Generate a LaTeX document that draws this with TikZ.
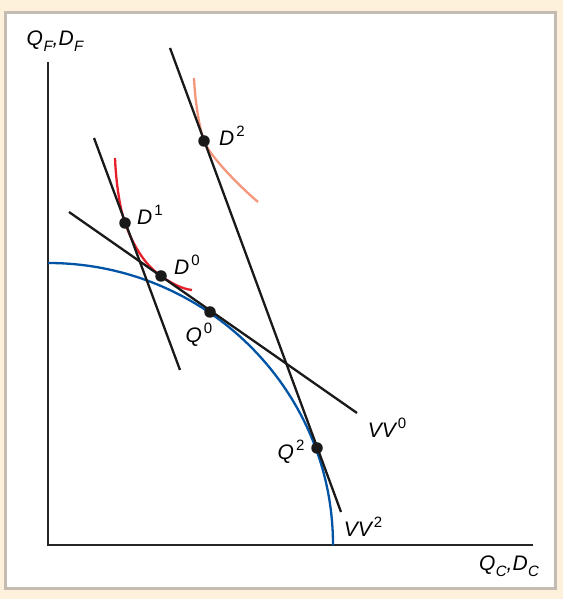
\documentclass[tikz,border=0pt]{standalone}
\usepackage{fontspec}
\setmainfont{Liberation Sans}
\usepackage{xcolor}
\usetikzlibrary{positioning}
\definecolor{framebeige}{RGB}{254,241,220}
\definecolor{framegray}{RGB}{196,188,178}
\definecolor{ppfblue}{RGB}{0,84,166}
\definecolor{icred}{RGB}{232,30,42}
\definecolor{icsalmon}{RGB}{244,150,124}
\newcommand{\hochz}[1]{\kern2pt\raisebox{0.85ex}{\fontsize{15}{15}\selectfont\upshape #1}}
\newcommand{\tiefz}[1]{\kern0.5pt\raisebox{-0.55ex}{\fontsize{15}{15}\selectfont #1}}
\tikzset{
    axis line/.style={line width=2.6pt, draw=black!85},
    price line/.style={line width=2.3pt, draw=black!90},
    eqpoint/.style={circle, fill=black!90, inner sep=0pt, minimum size=11.5pt},
    curve label/.style={font=\fontsize{21}{23}\selectfont\itshape, inner sep=0pt}
}

\begin{document}
\begin{tikzpicture}[x=1pt, y=1pt]
    % Rahmen
    \fill[framebeige] (-48,-54) rectangle (515,545);
    \useasboundingbox (-48,-54) rectangle (515,545);
    \draw[framegray, line width=3pt, fill=white] (-42,-43) rectangle (507,532);

    % Achsen
    \coordinate (origin) at (0,0);
    \coordinate (ytop) at (0,483);
    \coordinate (xend) at (485,0);
    \draw[axis line] (ytop) -- (origin) -- (xend);
    \node[curve label] (ylab) at (7,504) {Q\tiefz{F},D\tiefz{F}};
    \node[curve label] (xlab) at (461,-21) {Q\tiefz{C},D\tiefz{C}};

    % Transformationskurve
    \draw[ppfblue, line width=2.3pt] (0,282) arc[start angle=90, end angle=0, x radius=285, y radius=282];

    % Indifferenzkurven
    \draw[icred, line width=2.3pt] (67,387) .. controls (68,362) and (72,336) .. (77,322)
        .. controls (81,311) and (92,283) .. (113,269)
        .. controls (123,262) and (134,256) .. (144,255);
    \draw[icsalmon, line width=2.3pt] (146,467) .. controls (147,445) and (151,418) .. (156,404)
        .. controls (161,390) and (190,360) .. (210,343);

    % Preisgeraden
    \coordinate (vv0a) at (21,333);
    \coordinate (vv0b) at (309,132);
    \coordinate (vv2a) at (122,497);
    \coordinate (vv2b) at (293,33);
    \coordinate (vv1a) at (46,407);
    \coordinate (vv1b) at (132,175);
    \draw[price line] (vv0a) -- (vv0b);
    \draw[price line] (vv2a) -- (vv2b);
    \draw[price line] (vv1a) -- (vv1b);

    % Punkte
    \node[eqpoint] (d2) at (156,404) {};
    \node[eqpoint] (d1) at (77,322) {};
    \node[eqpoint] (d0) at (113,269) {};
    \node[eqpoint] (q0) at (162,233) {};
    \node[eqpoint] (q2) at (269,97) {};

    % Beschriftungen
    \node[curve label] (d2lab) at (184,409) {D\hochz{2}};
    \node[curve label] (d1lab) at (102,330) {D\hochz{1}};
    \node[curve label] (d0lab) at (139,280) {D\hochz{0}};
    \node[curve label] (q0lab) at (151,210) {Q\hochz{0}};
    \node[curve label] (q2lab) at (243,93) {Q\hochz{2}};
    \node[curve label] (vv0lab) at (339,117) {VV\hochz{0}};
    \node[curve label] (vv2lab) at (315,18) {VV\hochz{2}};
\end{tikzpicture}
\end{document}
